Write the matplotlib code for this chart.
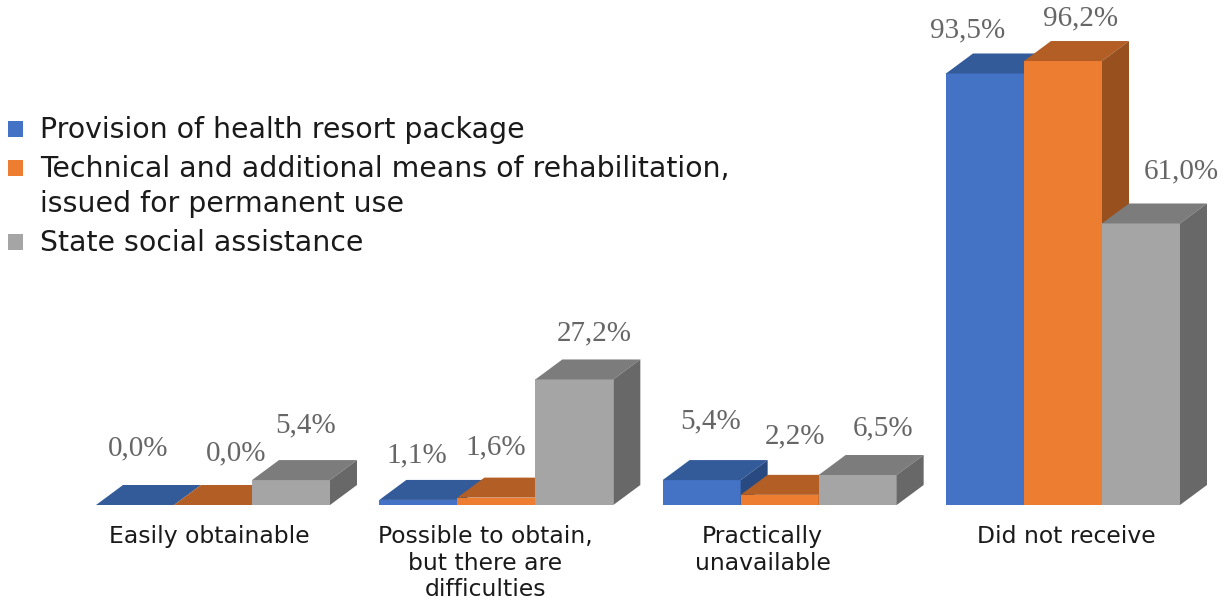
import matplotlib
matplotlib.use("Agg")
import matplotlib.pyplot as plt
from matplotlib.patches import Rectangle

categories = ["Easily obtainable", "Possible to obtain,\nbut there are\ndifficulties", "Practically\nunavailable", "Did not receive"]
series = ["Provision of health resort package",
          "Technical and additional means of rehabilitation,\nissued for permanent use",
          "State social assistance"]
health_resort = [0.0, 1.1, 5.4, 93.5]
technical = [0.0, 1.6, 2.2, 96.2]
social = [5.4, 27.2, 6.5, 61.0]
values = [health_resort, technical, social]

front_col = ["#4472C4", "#ED7D31", "#A5A5A5"]
top_col = ["#335A99", "#B25E25", "#7C7C7C"]
side_col = ["#294A80", "#97501E", "#686868"]

# pixel scale of the picture
W, H = 1227, 601
px_x = 283.33  # one group
px_y = 4.615   # one percent
bar_w = 78 / px_x
dep_x = 27 / px_x
dep_y = 20 / px_y

# label offsets from top middle of the bar, in pixels
label_off = [[(3, 57), (-2, 45), (9, 59), (-17, 43)],
             [(23, 52), (-1, 50), (15, 58), (18, 43)],
             [(15, 55), (20, 46), (25, 47), (40, 52)]]
tick_shift = [-4, -11, -17, 3]
legend_y = [129, 168, 242]

fig = plt.figure(figsize=(W / 100, H / 100), dpi=100)
ax = fig.add_axes([0, 0, 1, 1])
ax.set_xlim(-213 / px_x, (W - 213) / px_x)
ax.set_ylim(-96 / px_y, 505 / px_y)

for s in range(3):
    for i in range(4):
        v = values[s][i]
        x0 = i + (s - 1) * bar_w - bar_w / 2
        x1 = x0 + bar_w
        ax.fill([x0, x1, x1, x0], [0, 0, v, v], color=front_col[s], lw=0)
        ax.fill([x0, x1, x1 + dep_x, x0 + dep_x], [v, v, v + dep_y, v + dep_y], color=top_col[s], lw=0)
        ax.fill([x1, x1 + dep_x, x1 + dep_x, x1], [0, dep_y, v + dep_y, v], color=side_col[s], lw=0)
        ax.annotate(f"{v:.1f}%".replace(".", ","), (x0 + bar_w / 2, v), xytext=label_off[s][i],
                    textcoords="offset pixels", ha="center", va="center",
                    family="Liberation Serif", fontsize=21, color="#666666")

ax.spines[["top", "left", "right", "bottom"]].set_visible(False)
ax.spines["bottom"].set_position(("data", 0))
ax.set_yticks([])
ax.set_xticks([i + tick_shift[i] / px_x for i in range(4)])
ax.set_xticklabels(categories, fontsize=16.9, color="#1a1a1a", linespacing=1.19)
ax.tick_params(axis="x", length=0, pad=14.7)

# legend by hand, the square sits on the first line of a wrapped label
for s in range(3):
    y = 1 - legend_y[s] / H
    ax.add_patch(Rectangle((8 / W, y - 8 / H), 15 / W, 16 / H, transform=ax.transAxes,
                           color=front_col[s], lw=0))
    ax.text(40 / W, y + 13 / H, series[s], transform=ax.transAxes, va="top", ha="left",
            fontsize=20.4, color="#1a1a1a", linespacing=1.31)

fig.savefig("out.png", dpi=100)
